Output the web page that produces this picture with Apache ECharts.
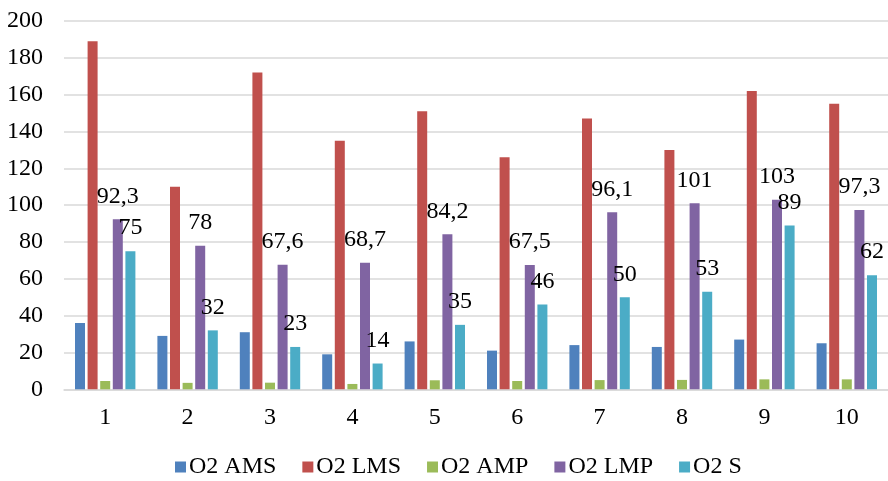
<!DOCTYPE html>
<html>
<head>
<meta charset="utf-8">
<script src="https://cdn.jsdelivr.net/npm/echarts@6/dist/echarts.min.js"></script>
<style>
  html, body { margin: 0; padding: 0; background: #fff; }
  #chart { width: 888px; height: 481px; }
</style>
</head>
<body>
<div id="chart"></div>
<script>
// Sample numbers along the x axis
const categories = ['1', '2', '3', '4', '5', '6', '7', '8', '9', '10'];

// Measured O2 values per sample
const o2AMS = [36, 29, 31, 19, 26, 21, 24, 23, 27, 25];
const o2LMS = [189, 110, 172, 135, 151, 126, 147, 130, 162, 155];
const o2AMP = [4.5, 3.5, 3.6, 2.9, 4.9, 4.5, 5, 5.1, 5.4, 5.4];
const o2LMP = [92.3, 78, 67.6, 68.7, 84.2, 67.5, 96.1, 101, 103, 97.3];
const o2S = [75, 32, 23, 14, 35, 46, 50, 53, 89, 62];

const seriesNames = ['O2 AMS', 'O2 LMS', 'O2 AMP', 'O2 LMP', 'O2 S'];
const seriesData = [o2AMS, o2LMS, o2AMP, o2LMP, o2S];
const labelledSeries = ['O2 LMP', 'O2 S'];

const yTicks = { min: 0, max: 200, interval: 20 };

const FONT = 'Liberation Serif';
const colors = ['#4F81BD', '#C0504D', '#9BBB59', '#8064A2', '#4BACC6'];

const chart = echarts.init(document.getElementById('chart'), null, { renderer: 'canvas' });

chart.setOption({
  animation: false,
  color: colors,
  textStyle: { fontFamily: FONT },
  grid: { left: 64, top: 21, width: 828, bottom: 91.7, containLabel: false },
  legend: {
    data: seriesNames,
    left: 170,
    top: 450,
    icon: 'rect',
    itemWidth: 11,
    itemHeight: 11,
    itemGap: 26,
    textStyle: { fontFamily: FONT, fontSize: 24, color: '#000', padding: [0, 0, 0, -2] }
  },
  xAxis: {
    type: 'category',
    data: categories,
    axisLine: { lineStyle: { color: '#d9d9d9', width: 1.5 } },
    axisTick: { show: false },
    axisLabel: { fontFamily: FONT, fontSize: 24, color: '#000', margin: 16 }
  },
  yAxis: {
    type: 'value',
    min: yTicks.min,
    max: yTicks.max,
    interval: yTicks.interval,
    axisLine: { show: false },
    axisTick: { show: false },
    splitLine: { lineStyle: { color: '#d9d9d9', width: 1.5 } },
    axisLabel: { fontFamily: FONT, fontSize: 24, color: '#000', margin: 21 }
  },
  series: seriesNames.map((name, i) => ({
    name: name,
    type: 'bar',
    data: seriesData[i],
    barWidth: 10,
    barGap: '26%',
    label: {
      show: labelledSeries.includes(name),
      position: 'top',
      distance: 11,
      color: '#000',
      fontSize: 24,
      fontFamily: FONT,
      fontWeight: 'normal',
      formatter: p => String(p.value).replace('.', ',')
    }
  }))
});
</script>
</body>
</html>
